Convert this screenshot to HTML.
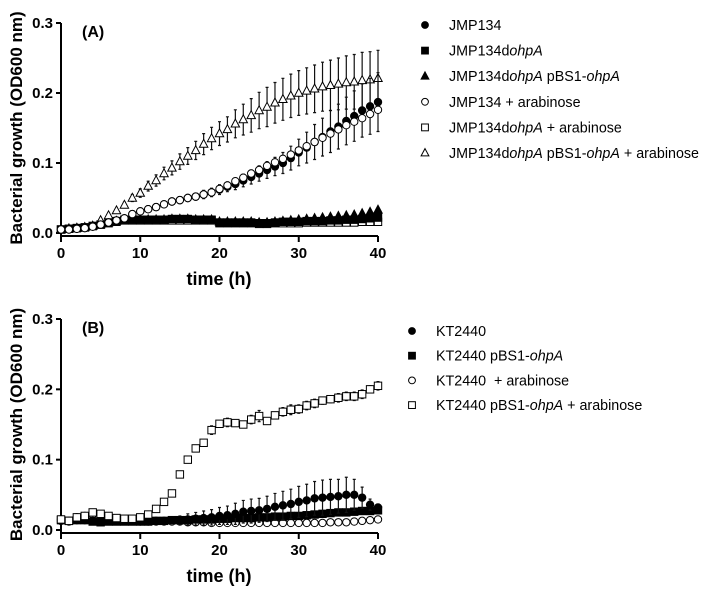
<!DOCTYPE html>
<html><head><meta charset="utf-8"><style>
body{margin:0;background:#fff;font-family:"Liberation Sans",Arial,sans-serif}
svg text{font-family:"Liberation Sans",Arial,sans-serif}
</style></head><body>
<svg id="c" width="709" height="588" xmlns="http://www.w3.org/2000/svg"></svg>
<script>
const times=[];for(let i=0;i<=40;i++)times.push(i);
// Panel A series
const aJMP=[0.005,0.005,0.006,0.007,0.009,0.012,0.015,0.018,0.021,0.027,0.031,0.034,0.037,0.041,0.045,0.047,0.05,0.052,0.055,0.058,0.062,0.066,0.07,0.075,0.08,0.085,0.09,0.095,0.1,0.107,0.115,0.122,0.13,0.137,0.145,0.152,0.16,0.167,0.175,0.181,0.187];
const aJMPerr=[0.002,0.002,0.002,0.002,0.002,0.002,0.003,0.003,0.003,0.003,0.004,0.004,0.004,0.004,0.005,0.005,0.005,0.005,0.006,0.006,0.007,0.007,0.008,0.009,0.01,0.011,0.012,0.013,0.015,0.017,0.019,0.022,0.025,0.027,0.03,0.032,0.034,0.036,0.038,0.04,0.042];
const aDel=[0.005,0.006,0.007,0.008,0.01,0.012,0.015,0.017,0.019,0.019,0.019,0.019,0.019,0.019,0.02,0.02,0.02,0.019,0.019,0.019,0.015,0.015,0.015,0.015,0.015,0.014,0.014,0.015,0.016,0.016,0.016,0.017,0.017,0.017,0.018,0.018,0.019,0.019,0.02,0.021,0.022];
const aComp=[0.005,0.006,0.007,0.008,0.01,0.012,0.015,0.017,0.019,0.019,0.019,0.019,0.019,0.019,0.02,0.02,0.02,0.019,0.019,0.019,0.016,0.016,0.016,0.016,0.016,0.015,0.015,0.016,0.017,0.018,0.019,0.02,0.021,0.022,0.023,0.024,0.025,0.026,0.028,0.03,0.033];
const aJMPara=[0.005,0.005,0.006,0.007,0.009,0.012,0.015,0.018,0.021,0.027,0.031,0.034,0.037,0.041,0.045,0.047,0.05,0.052,0.055,0.058,0.063,0.068,0.074,0.079,0.085,0.09,0.096,0.101,0.106,0.112,0.118,0.124,0.13,0.136,0.142,0.148,0.154,0.159,0.164,0.17,0.176];
const aDelAra=[0.005,0.006,0.007,0.008,0.01,0.012,0.014,0.016,0.018,0.018,0.018,0.018,0.018,0.018,0.018,0.018,0.018,0.018,0.018,0.018,0.014,0.014,0.014,0.014,0.014,0.013,0.013,0.014,0.014,0.014,0.014,0.015,0.015,0.015,0.015,0.015,0.015,0.015,0.016,0.016,0.016];
const aCompAra=[0.005,0.006,0.007,0.008,0.01,0.018,0.025,0.032,0.04,0.05,0.057,0.067,0.075,0.085,0.093,0.102,0.11,0.118,0.127,0.135,0.142,0.148,0.156,0.162,0.168,0.175,0.18,0.186,0.191,0.196,0.2,0.203,0.206,0.209,0.211,0.213,0.215,0.216,0.218,0.219,0.221];
const aCompAraErr=[0.001,0.001,0.001,0.001,0.002,0.002,0.003,0.003,0.004,0.005,0.006,0.007,0.008,0.009,0.01,0.011,0.012,0.013,0.015,0.016,0.017,0.018,0.02,0.022,0.024,0.026,0.028,0.029,0.03,0.031,0.032,0.033,0.034,0.035,0.036,0.037,0.038,0.039,0.04,0.04,0.04];
// Panel B series
const bKT=[0.013,0.012,0.014,0.014,0.013,0.013,0.013,0.013,0.013,0.013,0.013,0.013,0.013,0.013,0.014,0.014,0.015,0.016,0.017,0.018,0.02,0.021,0.023,0.026,0.027,0.028,0.03,0.033,0.035,0.037,0.04,0.042,0.045,0.046,0.047,0.048,0.05,0.05,0.046,0.036,0.032];
const bKTerr=[0.002,0.002,0.002,0.002,0.002,0.002,0.002,0.002,0.002,0.002,0.002,0.003,0.003,0.004,0.005,0.006,0.008,0.009,0.01,0.011,0.012,0.013,0.015,0.016,0.017,0.017,0.018,0.019,0.02,0.021,0.022,0.023,0.024,0.025,0.025,0.024,0.025,0.022,0.015,0.008,0.004];
const bPlas=[0.014,0.013,0.014,0.014,0.012,0.011,0.012,0.012,0.012,0.012,0.012,0.012,0.013,0.013,0.014,0.014,0.014,0.015,0.015,0.015,0.016,0.016,0.017,0.017,0.017,0.018,0.018,0.019,0.019,0.02,0.02,0.021,0.022,0.023,0.024,0.025,0.025,0.026,0.027,0.027,0.028];
const bKTara=[0.015,0.013,0.018,0.02,0.022,0.02,0.018,0.015,0.014,0.013,0.012,0.012,0.012,0.012,0.012,0.012,0.011,0.011,0.011,0.01,0.01,0.01,0.01,0.01,0.01,0.01,0.01,0.01,0.01,0.01,0.01,0.01,0.01,0.01,0.011,0.011,0.011,0.012,0.013,0.014,0.015];
const bPlasAra=[0.015,0.013,0.018,0.02,0.025,0.023,0.02,0.017,0.016,0.016,0.018,0.022,0.03,0.04,0.052,0.079,0.1,0.116,0.124,0.142,0.151,0.153,0.152,0.15,0.157,0.162,0.155,0.163,0.168,0.171,0.172,0.177,0.18,0.184,0.186,0.188,0.19,0.19,0.193,0.2,0.205];
const bPlasAraErr=[0.001,0.001,0.001,0.001,0.001,0.001,0.001,0.001,0.001,0.001,0.001,0.001,0.001,0.001,0.001,0.001,0.002,0.002,0.003,0.006,0.004,0.006,0.003,0.003,0.006,0.008,0.004,0.004,0.006,0.007,0.006,0.006,0.006,0.005,0.005,0.006,0.006,0.006,0.006,0.005,0.006];
const xTicks=[0,10,20,30,40];
const yTicks=[0,0.1,0.2,0.3];
const yTickLabels=["0.0","0.1","0.2","0.3"];

const NS="http://www.w3.org/2000/svg",svg=document.getElementById('c');
function mk(t,a,p){const e=document.createElementNS(NS,t);for(const k in a)e.setAttribute(k,a[k]);(p||svg).appendChild(e);return e;}
const X0=61,X1=378;
function xs(t){return X0+(X1-X0)*t/40;}
function panel(top,bot,label,name,series,legend,legY,legX,step){
  const g=mk('g',{});
  
  
  const ys=v=>bot-(bot-top)*v/0.3;
  const ax=mk('path',{d:`M${X0} ${top}V${bot+3}H${X1}`,stroke:'#000','stroke-width':2,fill:'none'},g);
  
  yTicks.forEach((v,i)=>{mk('line',{x1:X0-5,x2:X0,y1:ys(v),y2:ys(v),stroke:'#000','stroke-width':2},g);
    const t=mk('text',{x:X0-8,y:ys(v)+5,'text-anchor':'end','font-size':15,'font-weight':'bold'},g);t.textContent=yTickLabels[i];
    });
  xTicks.forEach(v=>{mk('line',{x1:xs(v),x2:xs(v),y1:bot+3,y2:bot+9,stroke:'#000','stroke-width':2},g);
    const t=mk('text',{x:xs(v),y:bot+25,'text-anchor':'middle','font-size':15,'font-weight':'bold'},g);t.textContent=v;
    });
  const lt=mk('text',{x:82,y:top+14,'font-size':16,'font-weight':'bold'},g);lt.textContent=label;
  
  const xt=mk('text',{x:219,y:bot+52,'text-anchor':'middle','font-size':18,'font-weight':'bold'},g);xt.textContent='time (h)';
  
  const yt=mk('text',{x:0,y:0,'text-anchor':'middle','font-size':17,'font-weight':'bold',transform:`translate(22,${(top+bot)/2}) rotate(-90)`},g);yt.textContent='Bacterial growth (OD600 nm)';
  
  series.forEach(s=>{
    const sg=mk('g',{},g);
    
    
    s.vals.forEach((v,i)=>{
      const x=xs(times[i]),y=ys(v);
      if(s.err){const e=s.err[i],yh=ys(v+e),yl=ys(v-e);
        mk('path',{d:`M${x} ${yh}V${yl}M${x-1.5} ${yh}h3M${x-1.5} ${yl}h3`,stroke:'#111','stroke-width':1.2},sg);}
      marker(sg,s.m,x,y,3.7);
    });
  });
  legend.forEach((l,i)=>{
    const y=legY+i*step;
    const lg=mk('g',{},g);
    
    
    marker(lg,l.m,legX,y,3.4);
    const t=mk('text',{x:legX+24,y:y+5,'font-size':14.3},lg);t.innerHTML=l.html;
  });
}
function marker(p,m,x,y,r){
  const fill=m[0]==='f'?'#000':'#fff',st={stroke:'#000','stroke-width':1,fill};
  let e;
  if(m[1]==='c')e=mk('circle',Object.assign({cx:x,cy:y,r:r},st),p);
  else if(m[1]==='s')e=mk('rect',Object.assign({x:x-r,y:y-r,width:2*r,height:2*r},st),p);
  else e=mk('path',Object.assign({d:`M${x} ${y-r-1}L${x+r+0.5} ${y+r-0.5}L${x-r-0.5} ${y+r-0.5}Z`},st),p);
  
  
}
const I=s=>`<tspan font-style="italic">${s}</tspan>`;
panel(23,233,'(A)','panel-a',[
  {name:'series-jmp134-delta-arabinose',m:'os',vals:aDelAra},
  {name:'series-jmp134-delta',m:'fs',vals:aDel},
  {name:'series-jmp134-complement',m:'ft',vals:aComp},
  {name:'series-jmp134-complement-arabinose',m:'ot',vals:aCompAra,err:aCompAraErr},
  {name:'series-jmp134',m:'fc',vals:aJMP,err:aJMPerr},
  {name:'series-jmp134-arabinose',m:'oc',vals:aJMPara}
],[
  {m:'fc',html:'JMP134'},{m:'fs',html:'JMP134d'+I('ohpA')},{m:'ft',html:'JMP134d'+I('ohpA')+' pBS1-'+I('ohpA')},
  {m:'oc',html:'JMP134 + arabinose'},{m:'os',html:'JMP134d'+I('ohpA')+' + arabinose'},{m:'ot',html:'JMP134d'+I('ohpA')+' pBS1-'+I('ohpA')+' + arabinose'}
],25,425,25.6);
panel(319,530,'(B)','panel-b',[
  {name:'series-kt2440-arabinose',m:'oc',vals:bKTara},
  {name:'series-kt2440-plasmid',m:'fs',vals:bPlas},
  {name:'series-kt2440',m:'fc',vals:bKT,err:bKTerr},
  {name:'series-kt2440-plasmid-arabinose',m:'os',vals:bPlasAra,err:bPlasAraErr}
],[
  {m:'fc',html:'KT2440'},{m:'fs',html:'KT2440 pBS1-'+I('ohpA')},{m:'oc',html:'KT2440&#160; + arabinose'},{m:'os',html:'KT2440 pBS1-'+I('ohpA')+' + arabinose'}
],331,412,24.7);
</script>
</body></html>
